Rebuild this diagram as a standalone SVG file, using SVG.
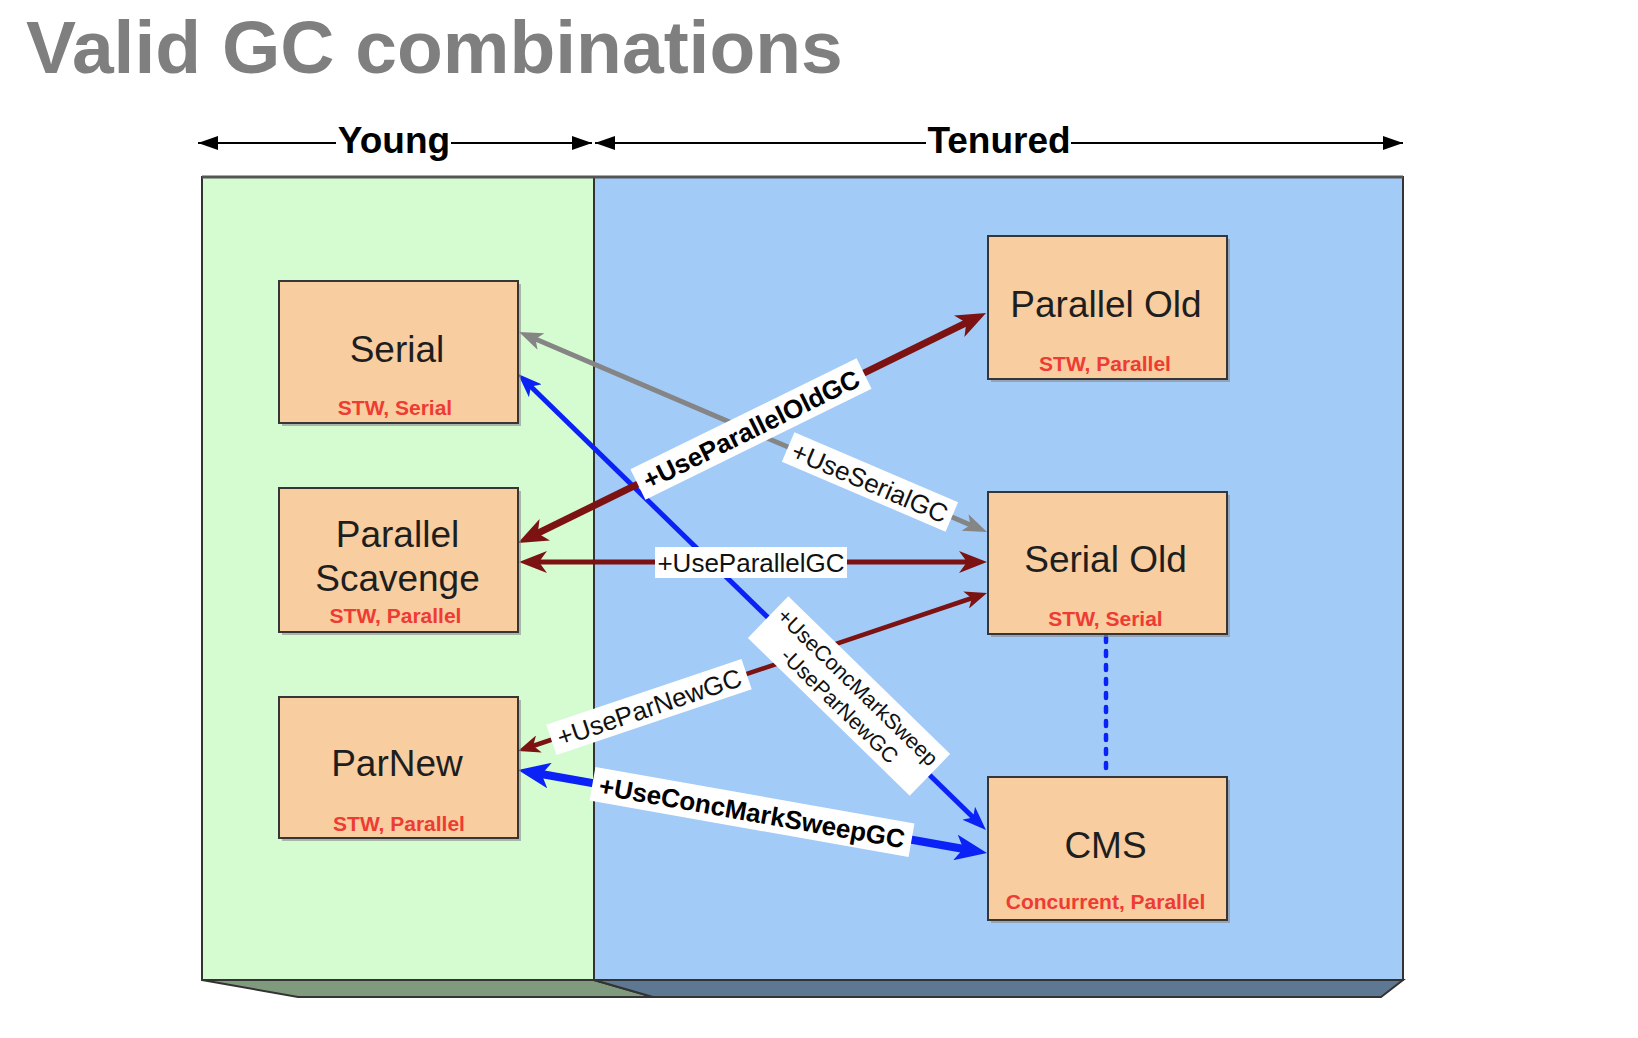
<svg xmlns="http://www.w3.org/2000/svg" width="1638" height="1038" viewBox="0 0 1638 1038">
  <style>
    .title { font-family: "Liberation Sans", Arial, sans-serif; font-weight: bold; font-size: 75px; fill: #7f7f7f; }
    .axis { font-family: "Liberation Sans", Arial, sans-serif; font-weight: bold; font-size: 37px; fill: #000; text-anchor: middle; }
    .box { fill: #f8cd9f; stroke: #363636; stroke-width: 2; }
    .shadow { fill: #8a8a8a; opacity: 0.6; }
    .name { font-family: "Liberation Sans", Arial, sans-serif; font-size: 37px; fill: #1e1e1e; text-anchor: middle; }
    .sub { font-family: "Liberation Sans", Arial, sans-serif; font-weight: bold; font-size: 21px; fill: #ee3b33; text-anchor: middle; }
    .lbl { font-family: "Liberation Sans", Arial, sans-serif; font-size: 26px; fill: #111; text-anchor: middle; }
    .lblb { font-family: "Liberation Sans", Arial, sans-serif; font-weight: bold; font-size: 26px; fill: #000; text-anchor: middle; }
    .lbls { font-family: "Liberation Sans", Arial, sans-serif; font-size: 21.5px; fill: #111; text-anchor: middle; }
    .lbg { fill: #ffffff; }
    .gray { stroke: #858585; stroke-width: 5; fill: none; }
    .blue { stroke: #0a22f5; stroke-width: 5; fill: none; }
    .bluet { stroke: #0a22f5; stroke-width: 8; fill: none; }
    .red { stroke: #7d1212; stroke-width: 7; fill: none; }
    .redm { stroke: #7d1212; stroke-width: 5; fill: none; }
    .redt { stroke: #7d1212; stroke-width: 4.5; fill: none; }
  </style>
  <defs>
    <marker id="mAxis" markerUnits="userSpaceOnUse" viewBox="0 0 20 14" markerWidth="20" markerHeight="14" refX="20" refY="7" orient="auto-start-reverse">
      <path d="M0,0 L20,7 L0,14 z" fill="#000"/>
    </marker>
    <marker id="mGray" markerUnits="userSpaceOnUse" viewBox="0 0 24 18" markerWidth="24" markerHeight="18" refX="8" refY="9" orient="auto-start-reverse">
      <path d="M0,0 L24,9 L0,18 L6,9 z" fill="#858585"/>
    </marker>
    <marker id="mBlue" markerUnits="userSpaceOnUse" viewBox="0 0 24 18" markerWidth="24" markerHeight="18" refX="8" refY="9" orient="auto-start-reverse">
      <path d="M0,0 L24,9 L0,18 L6,9 z" fill="#0a22f5"/>
    </marker>
    <marker id="mBlueT" markerUnits="userSpaceOnUse" viewBox="0 0 32 26" markerWidth="32" markerHeight="26" refX="10" refY="13" orient="auto-start-reverse">
      <path d="M0,0 L32,13 L0,26 L8,13 z" fill="#0a22f5"/>
    </marker>
    <marker id="mRed" markerUnits="userSpaceOnUse" viewBox="0 0 30 24" markerWidth="30" markerHeight="24" refX="10" refY="12" orient="auto-start-reverse">
      <path d="M0,0 L30,12 L0,24 L8,12 z" fill="#7d1212"/>
    </marker>
    <marker id="mRedM" markerUnits="userSpaceOnUse" viewBox="0 0 28 22" markerWidth="28" markerHeight="22" refX="10" refY="11" orient="auto-start-reverse">
      <path d="M0,0 L28,11 L0,22 L8,11 z" fill="#7d1212"/>
    </marker>
    <marker id="mRedT" markerUnits="userSpaceOnUse" viewBox="0 0 22 18" markerWidth="22" markerHeight="18" refX="8" refY="9" orient="auto-start-reverse">
      <path d="M0,0 L22,9 L0,18 L6,9 z" fill="#7d1212"/>
    </marker>
  </defs>

  <rect width="1638" height="1038" fill="#ffffff"/>

  <text class="title" x="26" y="73">Valid GC combinations</text>

  <!-- axis -->
  <g id="axis">
    <line x1="198" y1="143" x2="592" y2="143" stroke="#000" stroke-width="2" marker-start="url(#mAxis)" marker-end="url(#mAxis)"/>
    <line x1="595" y1="143" x2="1403" y2="143" stroke="#000" stroke-width="2" marker-start="url(#mAxis)" marker-end="url(#mAxis)"/>
    <rect x="336" y="124" width="115" height="38" fill="#fff"/>
    <text class="axis" x="394" y="153">Young</text>
    <rect x="926" y="124" width="145" height="38" fill="#fff"/>
    <text class="axis" x="999" y="153">Tenured</text>
  </g>

  <!-- regions -->
  <g id="regions">
    <polygon points="202,980 594,980 653,997 298,997" fill="#7f9a7c" stroke="#333" stroke-width="2"/>
    <polygon points="594,980 1403,980 1381,997 653,997" fill="#5e7893" stroke="#333" stroke-width="2"/>
    <rect id="young" x="202" y="177" width="392" height="803" fill="#d5fbd0" stroke="#333" stroke-width="2"/>
    <rect id="tenured" x="594" y="177" width="809" height="803" fill="#a2cbf8" stroke="#333" stroke-width="2"/>
    <line x1="202" y1="177" x2="1403" y2="177" stroke="#555" stroke-width="3"/>
  </g>

  <!-- connectors -->
  <g id="connectors">
    <line class="gray" x1="533.7" y1="338.3" x2="972.3" y2="525.7" marker-start="url(#mGray)" marker-end="url(#mGray)"/>
    <line class="blue" x1="529.5" y1="385.2" x2="974.5" y2="818.8" marker-start="url(#mBlue)" marker-end="url(#mBlue)"/>
    <line class="red" x1="535.9" y1="534.2" x2="968.1" y2="321.8" marker-start="url(#mRed)" marker-end="url(#mRed)"/>
    <line class="redm" x1="537" y1="562" x2="969" y2="562" marker-start="url(#mRedM)" marker-end="url(#mRedM)"/>
    <line class="redt" x1="531.3" y1="746.5" x2="973.7" y2="597.5" marker-start="url(#mRedT)" marker-end="url(#mRedT)"/>
    <line class="bluet" x1="539.7" y1="773.8" x2="965.3" y2="849.2" marker-start="url(#mBlueT)" marker-end="url(#mBlueT)"/>
    <line x1="1106" y1="637" x2="1106" y2="776" stroke="#0a22f5" stroke-width="4.5" stroke-dasharray="5 9" stroke-linecap="round"/>

    <g transform="translate(870,482) rotate(23.14)">
      <rect class="lbg" x="-89" y="-16" width="178" height="32"/>
      <text class="lbl" x="0" y="9.5">+UseSerialGC</text>
    </g>
    <g transform="translate(751,429) rotate(-26.17)">
      <rect class="lbg" x="-126" y="-17" width="252" height="34"/>
      <text class="lblb" x="0" y="9.5">+UseParallelOldGC</text>
    </g>
    <g transform="translate(751,562)">
      <rect class="lbg" x="-96" y="-15" width="192" height="31"/>
      <text class="lbl" x="0" y="9.5">+UseParallelGC</text>
    </g>
    <g transform="translate(649,707) rotate(-18.62)">
      <rect class="lbg" x="-103" y="-16" width="206" height="32"/>
      <text class="lbl" x="0" y="9.5">+UseParNewGC</text>
    </g>
    <g transform="translate(752,812) rotate(10.04)">
      <rect class="lbg" x="-162" y="-17" width="324" height="34"/>
      <text class="lblb" x="0" y="9.5">+UseConcMarkSweepGC</text>
    </g>
    <g transform="translate(849,696) rotate(44.26)">
      <rect class="lbg" x="-113" y="-29" width="226" height="58"/>
      <text class="lbls" x="0" y="-5">+UseConcMarkSweep</text>
      <text class="lbls" x="0" y="21">-UseParNewGC</text>
    </g>
  </g>

  <!-- nodes -->
  <g id="serial">
    <rect class="shadow" x="282" y="284" width="239" height="142"/>
    <rect class="box" x="279" y="281" width="239" height="142"/>
    <text class="name" x="397" y="362">Serial</text>
    <text class="sub" x="395" y="415">STW, Serial</text>
  </g>
  <g id="parallel-scavenge">
    <rect class="shadow" x="282" y="491" width="239" height="144"/>
    <rect class="box" x="279" y="488" width="239" height="144"/>
    <text class="name" x="397.5" y="547">Parallel</text>
    <text class="name" x="397.5" y="591">Scavenge</text>
    <text class="sub" x="395.5" y="623">STW, Parallel</text>
  </g>
  <g id="parnew">
    <rect class="shadow" x="282" y="700" width="239" height="141"/>
    <rect class="box" x="279" y="697" width="239" height="141"/>
    <text class="name" x="397" y="776">ParNew</text>
    <text class="sub" x="399" y="831">STW, Parallel</text>
  </g>
  <g id="parallel-old">
    <rect class="shadow" x="991" y="239" width="239" height="143"/>
    <rect class="box" x="988" y="236" width="239" height="143"/>
    <text class="name" x="1106" y="317">Parallel Old</text>
    <text class="sub" x="1105" y="371">STW, Parallel</text>
  </g>
  <g id="serial-old">
    <rect class="shadow" x="991" y="495" width="239" height="142"/>
    <rect class="box" x="988" y="492" width="239" height="142"/>
    <text class="name" x="1105.5" y="572">Serial Old</text>
    <text class="sub" x="1105.5" y="626">STW, Serial</text>
  </g>
  <g id="cms">
    <rect class="shadow" x="991" y="780" width="239" height="143"/>
    <rect class="box" x="988" y="777" width="239" height="143"/>
    <text class="name" x="1105.5" y="858">CMS</text>
    <text class="sub" x="1105.5" y="909">Concurrent, Parallel</text>
  </g>
</svg>
